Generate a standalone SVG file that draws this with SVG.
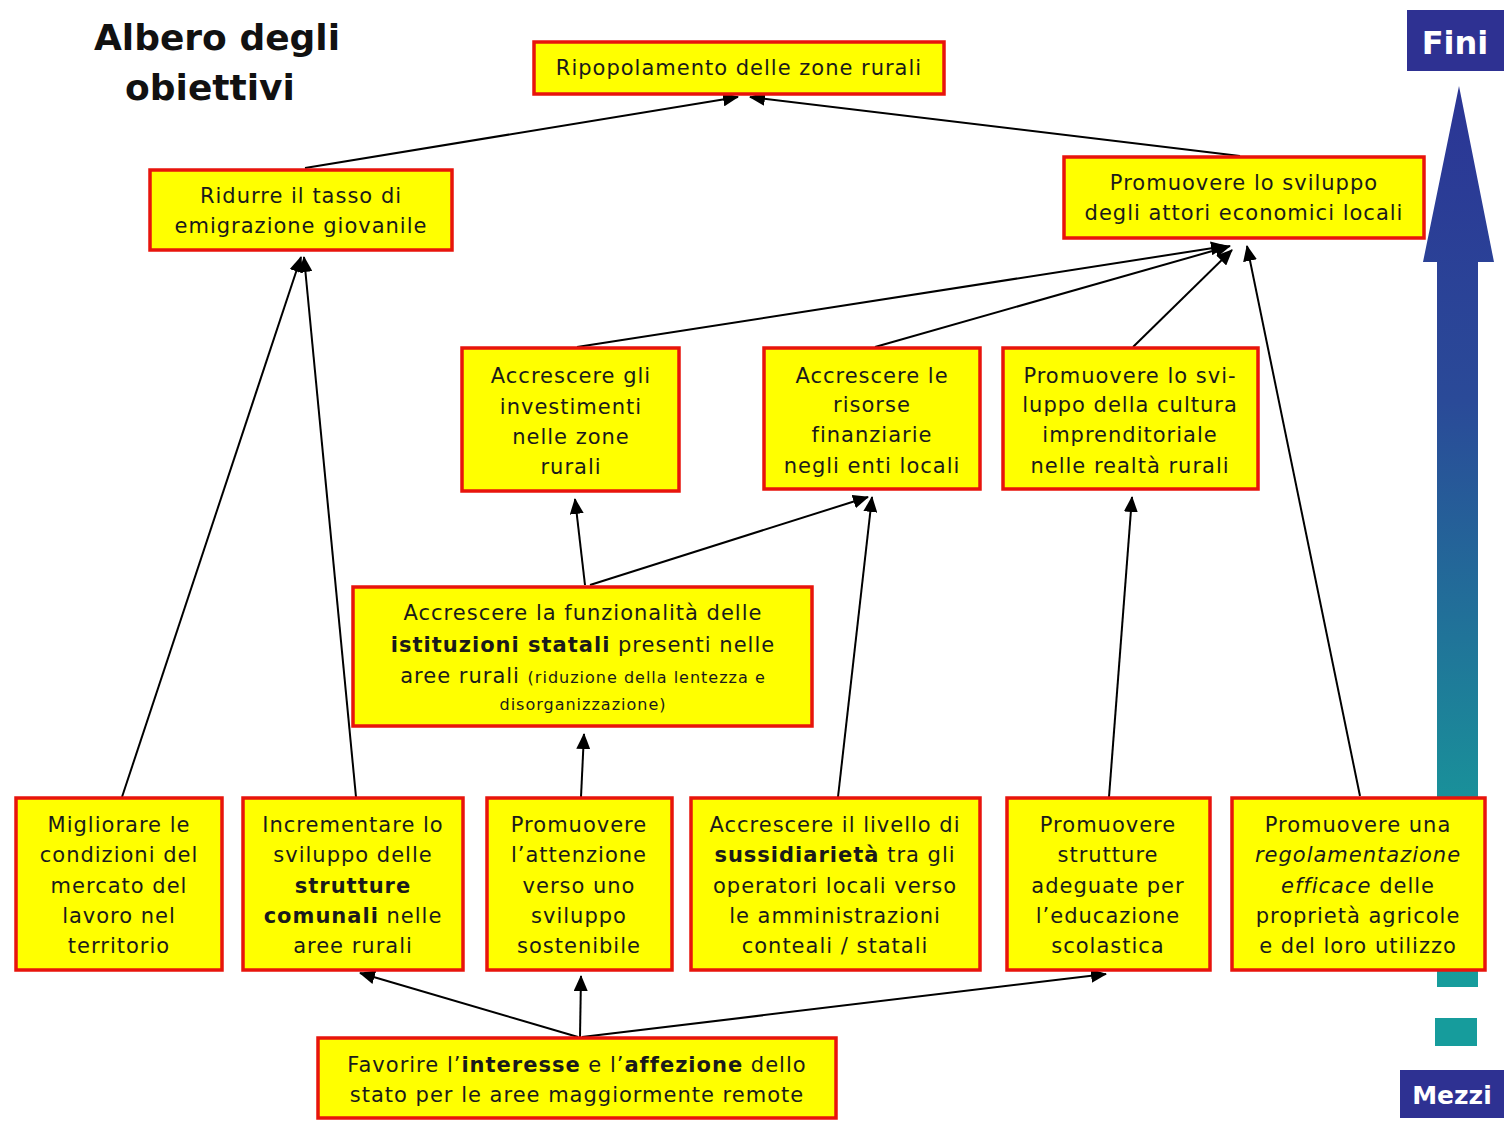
<svg xmlns="http://www.w3.org/2000/svg" width="1506" height="1128" viewBox="0 0 1506 1128">
<defs>
<linearGradient id="g" x1="0" y1="0" x2="0" y2="1">
<stop offset="0" stop-color="#2b3595"/>
<stop offset="0.35" stop-color="#2a4a98"/>
<stop offset="0.85" stop-color="#179a9a"/>
<stop offset="1" stop-color="#169c9c"/>
</linearGradient>
<marker id="ah" markerUnits="userSpaceOnUse" markerWidth="16" markerHeight="14" refX="15" refY="7" orient="auto">
<path d="M0,0 L16,7 L0,14 Z" fill="#000"/>
</marker>
<style>
.box{fill:#ffff00;stroke:#e8140c;stroke-width:3.5}
.t{font-family:"DejaVu Sans","Liberation Sans",sans-serif;font-size:21px;fill:#1a1a1a;text-anchor:middle;letter-spacing:1px}
.s{font-size:16px}
.b{font-weight:bold}
.i{font-style:italic}
.c{stroke:#000;stroke-width:2;fill:none;marker-end:url(#ah)}
.lbl{font-family:"DejaVu Sans","Liberation Sans",sans-serif;font-weight:bold;fill:#fff;text-anchor:middle}
</style>
</defs>
<rect width="1506" height="1128" fill="#fff"/>

<g id="title">
<text x="217" y="50" font-family="DejaVu Sans, Liberation Sans, sans-serif" font-weight="bold" font-size="36" text-anchor="middle" fill="#111">Albero degli</text>
<text x="210" y="100" font-family="DejaVu Sans, Liberation Sans, sans-serif" font-weight="bold" font-size="36" text-anchor="middle" fill="#111">obiettivi</text>
</g>

<g id="scale">
<rect x="1407" y="10" width="97" height="61" fill="#2e3192"/>
<text class="lbl" x="1455" y="54" font-size="32">Fini</text>
<path d="M1459,86 L1494,262 L1478,262 L1478,987 L1437,987 L1437,262 L1423,262 Z" fill="url(#g)"/>
<rect x="1435" y="1018" width="42" height="28" fill="#169c9c"/>
<rect x="1400" y="1070" width="104" height="48" fill="#2e3192"/>
<text class="lbl" x="1452" y="1104" font-size="25">Mezzi</text>
</g>

<g id="connectors">
<line class="c" x1="305" y1="168" x2="738" y2="97"/>
<line class="c" x1="1240" y1="156" x2="750" y2="97"/>
<line class="c" x1="577" y1="347" x2="1226" y2="246"/>
<line class="c" x1="875" y1="347" x2="1230" y2="246"/>
<line class="c" x1="1133" y1="347" x2="1232" y2="250"/>
<line class="c" x1="1360" y1="796" x2="1247" y2="246"/>
<line class="c" x1="122" y1="797" x2="301" y2="257"/>
<line class="c" x1="356" y1="797" x2="304" y2="257"/>
<line class="c" x1="585" y1="585" x2="575" y2="499"/>
<line class="c" x1="590" y1="585" x2="868" y2="497"/>
<line class="c" x1="838" y1="797" x2="872" y2="497"/>
<line class="c" x1="581" y1="797" x2="584" y2="734"/>
<line class="c" x1="1109" y1="797" x2="1132" y2="497"/>
<line class="c" x1="578" y1="1037" x2="360" y2="973"/>
<line class="c" x1="580" y1="1037" x2="581" y2="976"/>
<line class="c" x1="582" y1="1037" x2="1106" y2="974"/>
</g>

<g id="n-ripopolamento">
<rect class="box" x="534" y="42" width="410" height="52"/>
<text class="t" x="739" y="75">Ripopolamento delle zone rurali</text>
</g>
<g id="n-ridurre">
<rect class="box" x="150" y="170" width="302" height="80"/>
<text class="t" x="301" y="203">Ridurre il tasso di</text>
<text class="t" x="301" y="233">emigrazione giovanile</text>
</g>
<g id="n-attori">
<rect class="box" x="1064" y="157" width="360" height="81"/>
<text class="t" x="1244" y="190">Promuovere lo sviluppo</text>
<text class="t" x="1244" y="220">degli attori economici locali</text>
</g>
<g id="n-investimenti">
<rect class="box" x="462" y="348" width="217" height="143"/>
<text class="t" x="571" y="383">Accrescere gli</text>
<text class="t" x="571" y="414">investimenti</text>
<text class="t" x="571" y="444">nelle zone</text>
<text class="t" x="571" y="474">rurali</text>
</g>
<g id="n-risorse">
<rect class="box" x="764" y="348" width="216" height="141"/>
<text class="t" x="872" y="383">Accrescere le</text>
<text class="t" x="872" y="412">risorse</text>
<text class="t" x="872" y="442">finanziarie</text>
<text class="t" x="872" y="473">negli enti locali</text>
</g>
<g id="n-cultura">
<rect class="box" x="1003" y="348" width="255" height="141"/>
<text class="t" x="1130" y="383">Promuovere lo svi-</text>
<text class="t" x="1130" y="412">luppo della cultura</text>
<text class="t" x="1130" y="442">imprenditoriale</text>
<text class="t" x="1130" y="473">nelle realtà rurali</text>
</g>
<g id="n-funzionalita">
<rect class="box" x="353" y="587" width="459" height="139"/>
<text class="t" x="583" y="620">Accrescere la funzionalità delle</text>
<text class="t" x="583" y="652"><tspan class="b">istituzioni statali</tspan> presenti nelle</text>
<text class="t" x="583" y="683">aree rurali <tspan class="s">(riduzione della lentezza e</tspan></text>
<text class="t s" x="583" y="710">disorganizzazione)</text>
</g>
<g id="n-migliorare">
<rect class="box" x="16" y="798" width="206" height="172"/>
<text class="t" x="119" y="832">Migliorare le</text>
<text class="t" x="119" y="862">condizioni del</text>
<text class="t" x="119" y="893">mercato del</text>
<text class="t" x="119" y="923">lavoro nel</text>
<text class="t" x="119" y="953">territorio</text>
</g>
<g id="n-incrementare">
<rect class="box" x="243" y="798" width="220" height="172"/>
<text class="t" x="353" y="832">Incrementare lo</text>
<text class="t" x="353" y="862">sviluppo delle</text>
<text class="t b" x="353" y="893">strutture</text>
<text class="t" x="353" y="923"><tspan class="b">comunali</tspan> nelle</text>
<text class="t" x="353" y="953">aree rurali</text>
</g>
<g id="n-attenzione">
<rect class="box" x="487" y="798" width="185" height="172"/>
<text class="t" x="579" y="832">Promuovere</text>
<text class="t" x="579" y="862">l’attenzione</text>
<text class="t" x="579" y="893">verso uno</text>
<text class="t" x="579" y="923">sviluppo</text>
<text class="t" x="579" y="953">sostenibile</text>
</g>
<g id="n-sussidiarieta">
<rect class="box" x="691" y="798" width="289" height="172"/>
<text class="t" x="835" y="832">Accrescere il livello di</text>
<text class="t" x="835" y="862"><tspan class="b">sussidiarietà</tspan> tra gli</text>
<text class="t" x="835" y="893">operatori locali verso</text>
<text class="t" x="835" y="923">le amministrazioni</text>
<text class="t" x="835" y="953">conteali / statali</text>
</g>
<g id="n-strutture">
<rect class="box" x="1007" y="798" width="203" height="172"/>
<text class="t" x="1108" y="832">Promuovere</text>
<text class="t" x="1108" y="862">strutture</text>
<text class="t" x="1108" y="893">adeguate per</text>
<text class="t" x="1108" y="923">l’educazione</text>
<text class="t" x="1108" y="953">scolastica</text>
</g>
<g id="n-regolamentazione">
<rect class="box" x="1232" y="798" width="253" height="172"/>
<text class="t" x="1358" y="832">Promuovere una</text>
<text class="t i" x="1358" y="862">regolamentazione</text>
<text class="t" x="1358" y="893"><tspan class="i">efficace</tspan> delle</text>
<text class="t" x="1358" y="923">proprietà agricole</text>
<text class="t" x="1358" y="953">e del loro utilizzo</text>
</g>
<g id="n-favorire">
<rect class="box" x="318" y="1038" width="518" height="80"/>
<text class="t" x="577" y="1072">Favorire l’<tspan class="b">interesse</tspan> e l’<tspan class="b">affezione</tspan> dello</text>
<text class="t" x="577" y="1102">stato per le aree maggiormente remote</text>
</g>
</svg>
